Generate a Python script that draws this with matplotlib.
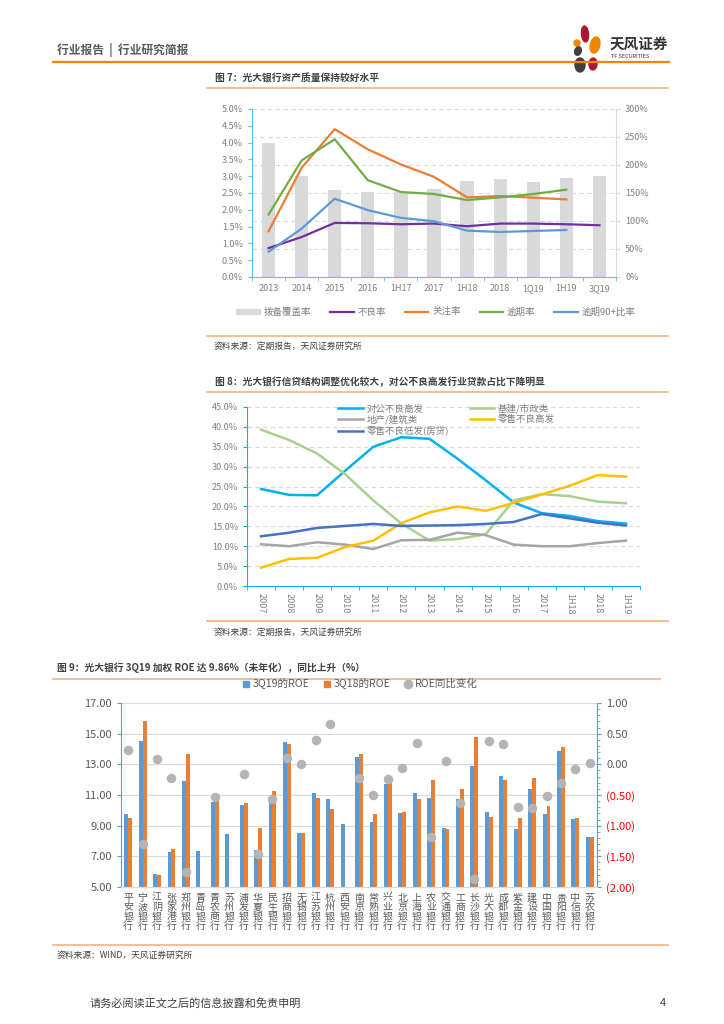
import numpy as np
import matplotlib.pyplot as plt
from matplotlib.patches import Patch, Ellipse
from matplotlib.lines import Line2D
from matplotlib.ticker import FuncFormatter, MultipleLocator, FixedLocator

plt.rcParams['font.family'] = ['Noto Sans CJK SC', 'DejaVu Sans']

W, H = 724, 1024
nan = np.nan

# 图7 data
periods1 = ['2013', '2014', '2015', '2016', '1H17', '2017', '1H18', '2018', '1Q19', '1H19', '3Q19']
coverage = [240, 180, 156, 152, 151, 158, 172, 175, 169, 177, 180]
npl = [0.86, 1.19, 1.61, 1.60, 1.57, 1.59, 1.51, 1.59, 1.59, 1.57, 1.54]
special = [1.36, 3.25, 4.40, 3.80, 3.35, 2.98, 2.37, 2.41, 2.36, 2.31, nan]
overdue = [1.86, 3.47, 4.10, 2.88, 2.53, 2.47, 2.29, 2.37, 2.47, 2.60, nan]
overdue90 = [0.75, 1.44, 2.33, 1.99, 1.76, 1.66, 1.38, 1.34, 1.37, 1.40, nan]

# 图8 data
periods2 = ['2007', '2008', '2009', '2010', '2011', '2012', '2013', '2014', '2015', '2016', '2017', '1H18', '2018', '1H19']
corp_bad = [24.4, 22.9, 22.8, 29.0, 35.0, 37.4, 37.0, 32.0, 26.6, 21.0, 18.3, 17.6, 16.3, 15.7]
infra = [39.3, 36.7, 33.3, 28.1, 21.5, 15.7, 11.4, 11.8, 13.0, 21.5, 23.1, 22.6, 21.2, 20.8]
realty = [10.5, 10.0, 11.0, 10.4, 9.3, 11.5, 11.6, 13.4, 12.8, 10.4, 10.0, 10.0, 10.8, 11.4]
retail_bad = [4.6, 6.8, 7.1, 9.8, 11.4, 15.8, 18.5, 20.0, 18.9, 20.9, 23.0, 25.2, 27.9, 27.5]
mortgage = [12.5, 13.4, 14.6, 15.1, 15.6, 15.1, 15.2, 15.3, 15.6, 16.1, 18.1, 17.0, 15.9, 15.2]

# 图9 data
banks = ['平安银行', '宁波银行', '江阴银行', '张家港行', '郑州银行', '青岛银行', '青农商行', '苏州银行',
         '浦发银行', '华夏银行', '民生银行', '招商银行', '无锡银行', '江苏银行', '杭州银行', '西安银行',
         '南京银行', '常熟银行', '兴业银行', '北京银行', '上海银行', '农业银行', '交通银行', '工商银行',
         '长沙银行', '光大银行', '成都银行', '紫金银行', '建设银行', '中国银行', '贵阳银行', '中信银行', '苏农银行']
roe19 = [9.74, 14.52, 5.87, 7.26, 11.91, 7.35, 10.54, 8.45, 10.35, 7.41, 10.80, 14.46, 8.54, 11.15, 10.74, 9.13,
         13.46, 9.21, 11.74, 9.80, 11.11, 10.80, 8.85, 10.76, 12.91, 9.87, 12.26, 8.78, 11.39, 9.76, 13.85, 9.43, 8.28]
roe18 = [9.52, 15.85, 5.78, 7.48, 13.70, nan, 11.06, nan, 10.50, 8.87, 11.26, 14.35, 8.54, 10.80, 10.09, nan,
         13.70, 9.73, 11.95, 9.89, 10.76, 12.00, 8.78, 11.39, 14.80, 9.54, 11.98, 9.50, 12.09, 10.28, 14.13, 9.52, 8.28]
roe_chg = [0.24, -1.30, 0.09, -0.22, -1.75, nan, -0.54, nan, -0.15, -1.46, -0.57, 0.10, 0.01, 0.40, 0.65, nan,
           -0.22, -0.50, -0.24, -0.06, 0.34, -1.19, 0.05, -0.63, -1.87, 0.38, 0.33, -0.69, -0.71, -0.52, -0.30, -0.08, 0.02]
left_ticks3 = [5, 7, 9, 11, 13, 15, 17]

GRAY_TXT = '#7F7F7F'
DARK_TXT = '#404040'
ORANGE = '#F08300'
LIGHT_OR = '#F4B183'


def rect(x0, y0, x1, y1):
    return [x0 / W, 1 - y1 / H, (x1 - x0) / W, (y1 - y0) / H]


def ftext(x, y, s, **kw):
    fig.text(x / W, 1 - y / H, s, **kw)


def hline(x0, x1, y, color, lw):
    fig.add_artist(Line2D([x0 / W, x1 / W], [1 - y / H, 1 - y / H], color=color, lw=lw))


fig = plt.figure(figsize=(W / 100, H / 100), dpi=100)

# ---- page header ----
ftext(57, 50, '行业报告  |  行业研究简报', fontsize=8.5, color='#595959', fontweight='bold', va='center')
hline(53, 669, 61.5, ORANGE, 1.6)
for (cx, cy, w, h, ang, col) in [(585, 34, 7, 16, 10, '#A6192E'), (595, 45, 9, 17, -30, ORANGE),
                                 (577, 43, 6, 6, 0, ORANGE), (578, 51, 7, 8, 30, '#404040'),
                                 (580, 65, 10, 14, 0, '#404040'), (593, 64, 8, 12, -20, '#A6192E')]:
    fig.add_artist(Ellipse((cx / W, 1 - cy / H), w / W, h / H, angle=ang, color=col,
                           transform=fig.transFigure))
ftext(610, 44, '天风证券', fontsize=10.5, fontweight='bold', color='#333333', va='center')
ftext(611, 56, 'TF SECURITIES', fontsize=4, color='#333333', va='center')

# ---- 图7 ----
ftext(215, 78, '图 7：光大银行资产质量保持较好水平', fontsize=7, fontweight='bold', color=DARK_TXT, va='center')
hline(207, 668, 88, LIGHT_OR, 1.2)

ax1 = fig.add_axes(rect(252, 109, 616, 277))
ax1r = ax1.twinx()
x1 = np.arange(len(periods1))
ax1r.bar(x1, coverage, width=0.4, color='#D9D9D9', zorder=2)
ax1r.set_ylim(0, 300)
ax1r.yaxis.set_major_locator(MultipleLocator(50))
ax1r.yaxis.set_major_formatter(FuncFormatter(lambda v, p: f'{v:.0f}%'))
ax1r.yaxis.grid(True, ls=(0, (4, 3)), color='#D9D9D9', lw=0.8, zorder=0)
ax1r.set_axisbelow(True)
ax1.set_zorder(ax1r.get_zorder() + 1)
ax1.patch.set_visible(False)

ax1.plot(x1, npl, color='#7030A0', lw=1.6)
ax1.plot(x1, special, color='#ED7D31', lw=1.6)
ax1.plot(x1, overdue, color='#70AD47', lw=1.6)
ax1.plot(x1, overdue90, color='#5B9BD5', lw=1.6)
ax1.set_ylim(0, 5)
ax1.set_xlim(-0.5, len(periods1) - 0.5)
ax1.yaxis.set_major_locator(MultipleLocator(0.5))
ax1.yaxis.set_major_formatter(FuncFormatter(lambda v, p: f'{v:.1f}%'))
ax1.set_xticks(x1)
ax1.set_xticklabels(periods1)
ax1.xaxis.set_minor_locator(FixedLocator(np.arange(-0.5, len(periods1), 1)))
ax1.tick_params(axis='x', which='major', length=0, pad=5, labelsize=6.5, labelcolor=GRAY_TXT)
ax1.tick_params(axis='x', which='minor', length=3, color='#5BC0EB')
ax1.tick_params(axis='y', length=3, color='#5BC0EB', labelsize=6.5, labelcolor=GRAY_TXT)
ax1r.tick_params(axis='y', length=3, color='#D9D9D9', labelsize=6.5, labelcolor=GRAY_TXT)
for a in (ax1, ax1r):
    a.spines['top'].set_visible(False)
ax1.spines['left'].set_color('#5BC0EB')
ax1.spines['bottom'].set_color('#5BC0EB')
ax1.spines['right'].set_visible(False)
ax1r.spines['left'].set_visible(False)
ax1r.spines['bottom'].set_visible(False)
ax1r.spines['right'].set_color('#D9D9D9')

h1 = [Patch(color='#D9D9D9'),
      Line2D([], [], color='#7030A0', lw=1.6), Line2D([], [], color='#ED7D31', lw=1.6),
      Line2D([], [], color='#70AD47', lw=1.6), Line2D([], [], color='#5B9BD5', lw=1.6)]
fig.legend(h1, ['拨备覆盖率', '不良率', '关注率', '逾期率', '逾期90+比率'], ncol=5, frameon=False,
           loc='center', bbox_to_anchor=(436 / W, 1 - 312 / H), fontsize=6.8, labelcolor=GRAY_TXT,
           handlelength=2.5, handleheight=0.5, handletextpad=0.4, columnspacing=2.0)

hline(207, 668, 336, LIGHT_OR, 1.2)
ftext(214, 346, '资料来源：定期报告，天风证券研究所', fontsize=6.3, color=DARK_TXT, va='center')

# ---- 图8 ----
ftext(215, 382, '图 8：光大银行信贷结构调整优化较大，对公不良高发行业贷款占比下降明显', fontsize=7,
      fontweight='bold', color=DARK_TXT, va='center')
hline(207, 668, 392, LIGHT_OR, 1.2)

ax2 = fig.add_axes(rect(247, 407, 640, 586))
x2 = np.arange(len(periods2))
l_corp, = ax2.plot(x2, corp_bad, color='#00B0F0', lw=1.8)
l_infra, = ax2.plot(x2, infra, color='#A9D18E', lw=1.8)
l_realty, = ax2.plot(x2, realty, color='#A5A5A5', lw=1.8)
l_retail, = ax2.plot(x2, retail_bad, color='#FFC000', lw=1.8)
l_mort, = ax2.plot(x2, mortgage, color='#4472C4', lw=1.8)
ax2.set_ylim(0, 45)
ax2.set_xlim(-0.5, len(periods2) - 0.5)
ax2.yaxis.set_major_locator(MultipleLocator(5))
ax2.yaxis.set_major_formatter(FuncFormatter(lambda v, p: f'{v:.1f}%'))
ax2.yaxis.grid(True, ls=(0, (4, 3)), color='#D9D9D9', lw=0.8)
ax2.set_axisbelow(True)
ax2.set_xticks(x2)
ax2.set_xticklabels(periods2, rotation=270)
ax2.xaxis.set_minor_locator(FixedLocator(np.arange(-0.5, len(periods2), 1)))
ax2.tick_params(axis='x', which='major', length=0, pad=5, labelsize=6.5, labelcolor=GRAY_TXT)
ax2.tick_params(axis='x', which='minor', length=3, color='#00B0F0')
ax2.tick_params(axis='y', length=3, color='#00B0F0', labelsize=6.5, labelcolor=GRAY_TXT)
for s in ('top', 'right'):
    ax2.spines[s].set_visible(False)
ax2.spines['left'].set_color('#00B0F0')
ax2.spines['bottom'].set_color('#00B0F0')
ax2.legend([l_corp, l_realty, l_mort, l_infra, l_retail],
           ['对公不良高发', '地产/建筑类', '零售不良低发(房贷)', '基建/市政类', '零售不良高发'],
           ncol=2, frameon=False, loc='upper left', bbox_to_anchor=(0.21, 1.065), fontsize=6.8,
           labelcolor=GRAY_TXT, handlelength=2.6, handletextpad=0.4, columnspacing=2.2, labelspacing=0.15)

hline(207, 668, 621, LIGHT_OR, 1.2)
ftext(214, 632, '资料来源：定期报告，天风证券研究所', fontsize=6.3, color=DARK_TXT, va='center')

# ---- 图9 ----
ftext(57, 668, '图 9：光大银行 3Q19 加权 ROE 达 9.86%（未年化），同比上升（%）', fontsize=7,
      fontweight='bold', color=DARK_TXT, va='center')
hline(53, 660, 679, LIGHT_OR, 1.2)

ax3 = fig.add_axes(rect(121, 703, 597, 887))
ax3r = ax3.twinx()
x3 = np.arange(len(banks))
bw = 0.27
ax3.bar(x3 - bw / 2, roe19, width=bw, color='#5B9BD5', zorder=2)
ax3.bar(x3 + bw / 2, roe18, width=bw, color='#ED7D31', zorder=2)
ax3.set_ylim(5, 17)
ax3.set_xlim(-0.5, len(banks) - 0.5)
ax3.yaxis.set_major_locator(FixedLocator(left_ticks3))
ax3.yaxis.set_major_formatter(FuncFormatter(lambda v, p: f'{v:.2f}'))
ax3.yaxis.grid(True, color='#D9D9D9', lw=0.8)
ax3.set_axisbelow(True)
ax3.set_xticks(x3)
ax3.set_xticklabels(['\n'.join(b) for b in banks], linespacing=0.92)
ax3.tick_params(axis='x', length=0, pad=4, labelsize=7.2, labelcolor='#595959')
ax3.tick_params(axis='y', length=3, color='#5B9BD5', labelsize=8, labelcolor='#595959')

ax3r.scatter(x3, roe_chg, s=34, color='#B4B4B4', zorder=3)
ax3r.set_ylim(-2, 1)
ax3r.yaxis.set_major_locator(MultipleLocator(0.5))
ax3r.yaxis.set_minor_locator(MultipleLocator(0.1))
ax3r.yaxis.set_major_formatter(FuncFormatter(lambda v, p: f'({abs(v):.2f})' if v < -1e-9 else f'{abs(v):.2f}'))
ax3r.tick_params(axis='y', which='major', length=3, color='#5B9BD5', labelsize=8, labelcolor='#595959')
ax3r.tick_params(axis='y', which='minor', length=2, color='#5B9BD5')
fig.canvas.draw()
for lab in ax3r.get_yticklabels():
    if lab.get_text().startswith('('):
        lab.set_color('#FF0000')
ax3.set_zorder(ax3r.get_zorder() - 1)
ax3r.patch.set_visible(False)
for a in (ax3, ax3r):
    a.spines['top'].set_visible(False)
    a.spines['bottom'].set_color('#D9D9D9')
ax3.spines['right'].set_visible(False)
ax3.spines['left'].set_color('#5B9BD5')
ax3r.spines['left'].set_visible(False)
ax3r.spines['right'].set_color('#5B9BD5')

h3 = [Line2D([], [], ls='none', marker='s', ms=5, color='#5B9BD5'),
      Line2D([], [], ls='none', marker='s', ms=5, color='#ED7D31'),
      Line2D([], [], ls='none', marker='o', ms=6, color='#B4B4B4')]
fig.legend(h3, ['3Q19的ROE', '3Q18的ROE', 'ROE同比变化'], ncol=3, frameon=False, loc='center',
           bbox_to_anchor=(360 / W, 1 - 684 / H), fontsize=7.6, labelcolor='#595959',
           handlelength=0.7, handletextpad=0.3, columnspacing=1.3)

hline(53, 668, 945, LIGHT_OR, 1.2)
ftext(57, 955, '资料来源：WIND，天风证券研究所', fontsize=6.3, color=DARK_TXT, va='center')

# ---- footer ----
ftext(90, 1003, '请务必阅读正文之后的信息披露和免责申明', fontsize=8, color='#404040', va='center')
ftext(660, 1003, '4', fontsize=8, color='#404040', va='center')

plt.savefig('out.png', dpi=100)
